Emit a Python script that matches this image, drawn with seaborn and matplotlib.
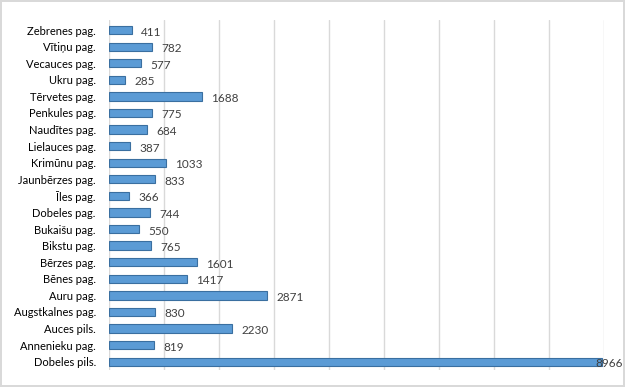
import seaborn as sns
from matplotlib import pyplot as plt
import pandas as pd

places = ['Zebrenes pag.', 'Vītiņu pag.', 'Vecauces pag.', 'Ukru pag.', 'Tērvetes pag.',
          'Penkules pag.', 'Naudītes pag.', 'Lielauces pag.', 'Krimūnu pag.', 'Jaunbērzes pag.',
          'Īles pag.', 'Dobeles pag.', 'Bukaišu pag.', 'Bikstu pag.', 'Bērzes pag.',
          'Bēnes pag.', 'Auru pag.', 'Augstkalnes pag.', 'Auces pils.', 'Annenieku pag.',
          'Dobeles pils.']
population = [411, 782, 577, 285, 1688, 775, 684, 387, 1033, 833,
              366, 744, 550, 765, 1601, 1417, 2871, 830, 2230, 819, 8966]

df = pd.DataFrame({'place': places, 'value': population})

sns.set_style('white')
plt.rcParams['font.family'] = ['Lato', 'DejaVu Sans']

fig = plt.figure(figsize=(6.25, 3.87), dpi=100)
fig.patch.set_edgecolor('#D9D9D9')
fig.patch.set_linewidth(1.5)
ax = fig.add_axes([0.1744, 0.044, 0.792, 0.904])

sns.barplot(data=df, x='value', y='place', orient='h', color='#5B9BD5',
            edgecolor='#3A6FA0', linewidth=0.8, width=0.5, saturation=1, ax=ax)

# labels sit just past the bar end, but stay inside the plot for the long bar
for i, v in enumerate(population):
    ax.text(min(v + 170, 8840), i + 0.12, str(v), va='center', ha='left',
            fontsize=8.5, color='#404040')

ax.set_xlim(0, 9000)
ax.set_ylim(20.5, -0.6)
ax.set_xticks(range(0, 9001, 1000))
ax.xaxis.grid(True, color='#D9D9D9', linewidth=1)
ax.set_axisbelow(True)
ax.tick_params(axis='x', labelbottom=False, bottom=False)
ax.tick_params(axis='y', left=False, labelsize=8, colors='#000000', pad=6)
ax.set(xlabel=None, ylabel=None)
for s in ax.spines.values():
    s.set_visible(False)

fig.savefig('out.png', dpi=100)
